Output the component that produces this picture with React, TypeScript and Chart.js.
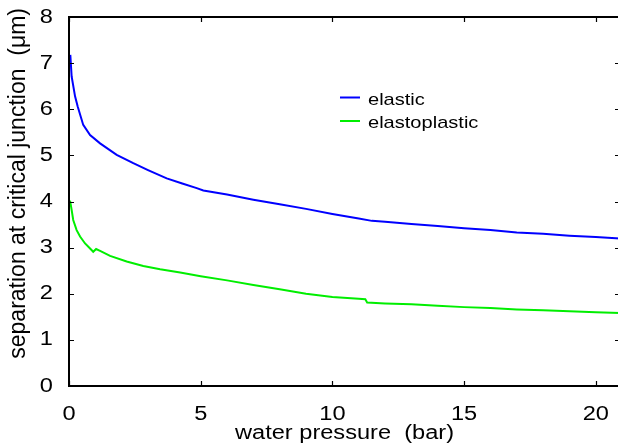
import React, { useEffect, useRef } from "react";
import { Chart, registerables } from "chart.js";

Chart.register(...registerables);

const elasticX = [0.05, 0.1, 0.23, 0.33, 0.54, 0.8, 1.18, 1.81, 2.44, 3.0, 3.71, 4.3, 4.85, 5.1, 6, 7, 8, 9, 10, 11, 11.5, 12, 13, 14, 15, 16, 17, 18, 19, 20, 20.92];
const elasticY = [7.18, 6.71, 6.28, 6.06, 5.66, 5.44, 5.26, 5.01, 4.83, 4.68, 4.5, 4.39, 4.29, 4.24, 4.15, 4.04, 3.94, 3.84, 3.73, 3.63, 3.58, 3.56, 3.51, 3.47, 3.42, 3.38, 3.33, 3.3, 3.26, 3.23, 3.2];

const elastoplasticX = [0.04, 0.1, 0.16, 0.29, 0.42, 0.61, 0.8, 0.92, 1.03, 1.18, 1.56, 2.19, 2.82, 3.46, 4.22, 5, 6, 7, 8, 9, 10, 11, 11.25, 11.32, 12, 13, 14, 15, 16, 17, 18, 19, 20, 20.92];
const elastoplasticY = [4.02, 3.82, 3.6, 3.38, 3.24, 3.09, 2.98, 2.91, 2.97, 2.93, 2.82, 2.7, 2.6, 2.53, 2.46, 2.38, 2.29, 2.19, 2.1, 2.0, 1.93, 1.89, 1.88, 1.81, 1.79, 1.77, 1.74, 1.71, 1.69, 1.66, 1.64, 1.62, 1.6, 1.585];

const seriesLabels = ["elastic", "elastoplastic"];
const xTicks = [0, 5, 10, 15, 20];
const yTicks = [0, 1, 2, 3, 4, 5, 6, 7, 8];
const xTitle = "water pressure  (bar)";
const yTitle = "separation at critical junction  (μm)";

const FONT = "'Liberation Sans', Arial, Helvetica, sans-serif";
const STRETCH = 1.18;
const ROTATED_SHIFT = 9;

const stretchPlugin = {
  id: "stretchText",
  beforeDraw(chart: any) {
    const ctx = chart.ctx as any;
    if (ctx.__stretched) return;
    ctx.__stretched = true;
    const orig = ctx.fillText.bind(ctx);
    ctx.fillText = function (text: string, x: number, y: number, maxWidth?: number) {
      const t = ctx.getTransform();
      if (Math.abs(t.b) > 1e-6 || Math.abs(t.c) > 1e-6) {
        return orig(text, x + ROTATED_SHIFT, y);
      }
      ctx.save();
      ctx.translate(x, y);
      ctx.scale(STRETCH, 1);
      if (maxWidth === undefined) orig(text, 0, 0);
      else orig(text, 0, 0, maxWidth / STRETCH);
      ctx.restore();
    };
  },
};

const framePlugin = {
  id: "frame",
  afterDatasetsDraw(chart: any) {
    const { ctx, chartArea } = chart;
    const { left, right, top, bottom } = chartArea;
    const xs = chart.scales.x;
    const ys = chart.scales.y;
    ctx.save();
    ctx.strokeStyle = "#000";
    ctx.lineWidth = 1.2;
    const tl = 5;
    ctx.beginPath();
    xTicks.forEach((v) => {
      const px = Math.round(xs.getPixelForValue(v)) + 0.5;
      ctx.moveTo(px, bottom);
      ctx.lineTo(px, bottom - tl);
      ctx.moveTo(px, top);
      ctx.lineTo(px, top + tl);
    });
    yTicks.forEach((v) => {
      const py = Math.round(ys.getPixelForValue(v)) + 0.5;
      ctx.moveTo(left, py);
      ctx.lineTo(left + tl, py);
      ctx.moveTo(right, py);
      ctx.lineTo(right - tl, py);
    });
    ctx.stroke();
    ctx.lineWidth = 2;
    ctx.strokeRect(left, top, right - left, bottom - top);
    ctx.restore();
  },
};

const legendPlugin = {
  id: "innerLegend",
  afterDraw(chart: any) {
    const { ctx } = chart;
    ctx.save();
    chart.data.datasets.forEach((ds: any, i: number) => {
      const y = 97.5 + i * 23.5;
      ctx.strokeStyle = ds.borderColor;
      ctx.lineWidth = 2;
      ctx.beginPath();
      ctx.moveTo(340, y);
      ctx.lineTo(360, y);
      ctx.stroke();
      ctx.fillStyle = "#000";
      ctx.font = `17px ${FONT}`;
      ctx.textAlign = "left";
      ctx.textBaseline = "alphabetic";
      ctx.fillText(ds.label, 368, y + 7);
    });
    ctx.restore();
  },
};

export default function App() {
  const ref = useRef<HTMLCanvasElement | null>(null);

  useEffect(() => {
    if (!ref.current) return;
    const chart = new Chart(ref.current, {
      type: "line",
      data: {
        datasets: [
          {
            label: seriesLabels[0],
            data: elasticX.map((x, i) => ({ x, y: elasticY[i] })),
            borderColor: "#0000ff",
            borderWidth: 2,
            pointRadius: 0,
            tension: 0,
            fill: false,
          },
          {
            label: seriesLabels[1],
            data: elastoplasticX.map((x, i) => ({ x, y: elastoplasticY[i] })),
            borderColor: "#00ee00",
            borderWidth: 2,
            pointRadius: 0,
            tension: 0,
            fill: false,
          },
        ],
      },
      options: {
        animation: false,
        responsive: false,
        devicePixelRatio: 1,
        layout: { padding: { left: 0, top: 17, right: 2, bottom: 0 } },
        plugins: {
          legend: { display: false },
          tooltip: { enabled: false },
        },
        scales: {
          x: {
            type: "linear",
            min: 0,
            max: 20.92,
            afterBuildTicks: (s: any) => {
              s.ticks = xTicks.map((v) => ({ value: v }));
            },
            afterFit: (s: any) => {
              s.height = 62;
              s.paddingLeft = 0;
              s.paddingRight = 0;
            },
            grid: { display: false, drawTicks: false },
            border: { display: false },
            ticks: {
              padding: 16,
              color: "#000",
              font: { family: FONT, size: 20 },
              maxRotation: 0,
              autoSkip: false,
            },
            title: {
              display: true,
              text: xTitle,
              color: "#000",
              font: { family: FONT, size: 20, lineHeight: 1 },
              padding: { top: 0, bottom: 5 },
            },
          },
          y: {
            type: "linear",
            min: 0,
            max: 8,
            afterBuildTicks: (s: any) => {
              s.ticks = yTicks.map((v) => ({ value: v }));
            },
            afterFit: (s: any) => {
              s.width = 69;
              s.paddingTop = 0;
              s.paddingBottom = 0;
            },
            grid: { display: false, drawTicks: false },
            border: { display: false },
            ticks: {
              padding: 16,
              color: "#000",
              font: { family: FONT, size: 20 },
            },
            title: {
              display: true,
              text: yTitle,
              align: "end",
              color: "#000",
              font: { family: FONT, size: 23, lineHeight: 1 },
              padding: { top: 7, bottom: 0 },
            },
          },
        },
      },
      plugins: [stretchPlugin, framePlugin, legendPlugin],
    } as any);
    return () => chart.destroy();
  }, []);

  return (
    <div style={{ position: "fixed", left: 0, top: 0, width: 618, height: 448, overflow: "hidden", background: "#fff" }}>
      <canvas ref={ref} width={622} height={448} style={{ display: "block", width: 622, height: 448 }} />
    </div>
  );
}
